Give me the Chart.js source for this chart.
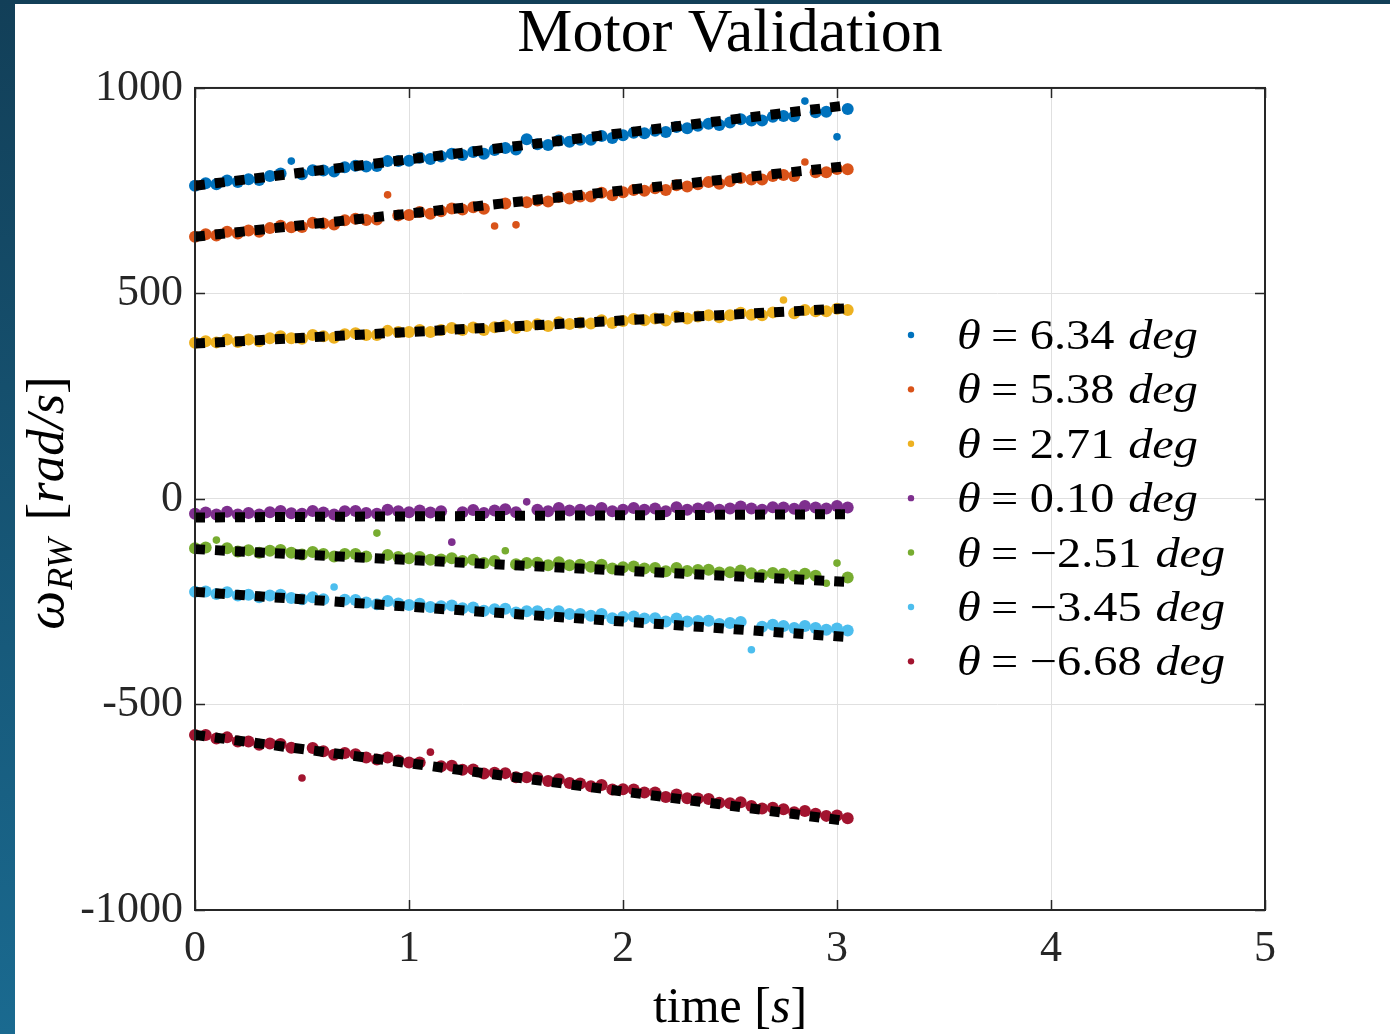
<!DOCTYPE html>
<html>
<head>
<meta charset="utf-8">
<title>Motor Validation</title>
<script src="https://cdn.jsdelivr.net/npm/chart.js@4.4.0/dist/chart.umd.min.js"></script>
<style>
  html, body { margin: 0; padding: 0; }
  body {
    width: 1390px; height: 1034px; overflow: hidden; position: relative;
    background: linear-gradient(to bottom, #123f58, #1a6a90);
  }
  #panel { position: absolute; left: 15px; top: 4px; width: 1375px; height: 1030px; background: #fff; }
</style>
</head>
<body>
<div id="panel"><canvas id="motorChart" width="1375" height="1030"></canvas></div>
<script>
// sample times [s], shared by every run
const times = [
  0, 0.05, 0.1, 0.15, 0.2, 0.25, 0.3, 0.35, 0.4, 0.45,
  0.5, 0.55, 0.6, 0.65, 0.7, 0.75, 0.8, 0.85, 0.9, 0.95,
  1, 1.05, 1.1, 1.15, 1.2, 1.25, 1.3, 1.35, 1.4, 1.45,
  1.5, 1.55, 1.6, 1.65, 1.7, 1.75, 1.8, 1.85, 1.9, 1.95,
  2, 2.05, 2.1, 2.15, 2.2, 2.25, 2.3, 2.35, 2.4, 2.45,
  2.5, 2.55, 2.6, 2.65, 2.7, 2.75, 2.8, 2.85, 2.9, 2.95,
  3, 3.05
];

// tilt angle of each run [deg]
const anglesDeg = [6.34, 5.38, 2.71, 0.10, -2.51, -3.45, -6.68];

// measured wheel speed [rad/s]
const w634 = [
  762, 768, 766, 775, 771, 778, 776, 786, 792, 822,
  790, 800, 799, 797, 807, 811, 809, 810, 822, 822,
  823, 830, 827, 833, 840, 837, 844, 840, 849, 854,
  850, 875, 863, 861, 872, 869, 874, 874, 883, 878,
  885, 891, 890, 896, 893, 905, 902, 908, 913, 910,
  916, 924, 921, 921, 930, 932, 931, 968, 941, 942,
  881, 949
];
const w538 = [
  638, 644, 641, 650, 646, 653, 650, 659, 665, 661,
  662, 672, 670, 668, 678, 682, 679, 680, 740, 690,
  691, 698, 694, 700, 707, 704, 710, 706, 664, 719,
  667, 722, 726, 724, 735, 731, 736, 736, 745, 739,
  746, 752, 750, 756, 752, 763, 760, 766, 771, 767,
  773, 781, 777, 777, 786, 788, 786, 820, 795, 795,
  803, 802
];
const w271 = [
  380, 384, 381, 388, 382, 388, 384, 391, 396, 391,
  390, 399, 396, 392, 401, 403, 399, 399, 409, 406,
  406, 411, 406, 411, 416, 411, 417, 411, 418, 422,
  416, 421, 425, 421, 430, 426, 429, 427, 435, 428,
  433, 438, 435, 439, 434, 444, 439, 444, 447, 442,
  447, 453, 448, 447, 454, 484, 452, 460, 457, 457,
  463, 460
];
const w010 = [
  -36, -33, -38, -31, -38, -34, -38, -32, -29, -35,
  -36, -29, -33, -38, -30, -29, -34, -36, -26, -30,
  -32, -28, -33, -30, -105, -32, -27, -34, -28, -25,
  -32, -7, -26, -30, -22, -28, -26, -28, -22, -30,
  -26, -22, -26, -23, -30, -20, -26, -23, -20, -26,
  -23, -18, -23, -26, -20, -21, -24, -17, -21, -23,
  -17, -21
];
const wm251 = [
  -120, -118, -100, -120, -128, -125, -131, -126, -124, -131,
  -135, -129, -134, -140, -134, -134, -140, -83, -136, -141,
  -144, -141, -148, -147, -144, -151, -148, -156, -151, -126,
  -159, -156, -155, -161, -154, -161, -160, -165, -160, -169,
  -166, -164, -169, -168, -176, -168, -175, -173, -172, -179,
  -178, -174, -181, -185, -180, -182, -187, -182, -187, -205,
  -156, -191
];
const wm345 = [
  -226, -225, -231, -227, -235, -233, -239, -235, -233, -241,
  -244, -239, -244, -214, -245, -246, -252, -256, -248, -254,
  -258, -255, -263, -261, -259, -266, -264, -272, -268, -267,
  -276, -273, -273, -279, -273, -280, -280, -284, -280, -290,
  -287, -286, -291, -290, -298, -291, -298, -297, -296, -304,
  -302, -299, -367, -311, -306, -309, -314, -309, -314, -318,
  -315, -320
];
const wm668 = [
  -574, -574, -583, -580, -590, -590, -598, -595, -596, -605,
  -679, -606, -614, -622, -618, -621, -629, -634, -629, -636,
  -641, -641, -616, -650, -649, -659, -658, -668, -666, -667,
  -677, -677, -678, -686, -682, -691, -692, -699, -696, -707,
  -706, -707, -714, -714, -725, -719, -728, -729, -730, -739,
  -740, -738, -747, -753, -751, -755, -762, -759, -766, -771,
  -770, -777
];
const measured = [w634, w538, w271, w010, wm251, wm345, wm668];

// model fit, start and end of the run
const fitTimes = [0, 3.05];
const fit634 = [762, 958];
const fit538 = [638, 810];
const fit271 = [378, 464];
const fit010 = [-45, -37];
const fitm251 = [-122, -202];
const fitm345 = [-226, -336];
const fitm668 = [-574, -784];
const fits = [fit634, fit538, fit271, fit010, fitm251, fitm345, fitm668];

const xTicks = [0, 1, 2, 3, 4, 5];
const yTicks = [-1000, -500, 0, 500, 1000];

const seriesColors = ['#0072BD', '#D95319', '#EDB120', '#7E2F8E', '#77AC30', '#4DBEEE', '#A2142F'];
const FONT = "'Liberation Serif', 'DejaVu Serif', serif";

function angleText(a) {
  const s = Math.abs(a).toFixed(2);
  return a < 0 ? '\u2212' + s : s;
}

// stray samples (far from the local median) are drawn as small dots,
// the rest overlap into a thick band as in the original figure
function dotRadius(vals) {
  return (c) => {
    const i = c.dataIndex;
    const win = vals.slice(Math.max(i - 2, 0), i + 3).sort((p, q) => p - q);
    const m = win.length % 2 ? win[(win.length - 1) / 2]
                             : (win[win.length / 2 - 1] + win[win.length / 2]) / 2;
    return Math.abs(vals[i] - m) > 16 ? 3.8 : 6;
  };
}

const datasets = [];
measured.forEach((vals, k) => {
  datasets.push({
    label: '\u03B8 = ' + angleText(anglesDeg[k]) + ' deg',
    data: times.map((t, i) => ({ x: t, y: vals[i] })),
    backgroundColor: seriesColors[k],
    borderWidth: 0,
    pointRadius: dotRadius(vals),
    showLine: false,
    clip: false,
    order: 2
  });
});
fits.forEach((vals) => {
  datasets.push({
    label: 'fit',
    data: fitTimes.map((t, i) => ({ x: t, y: vals[i] })),
    showLine: true,
    borderColor: '#000',
    borderWidth: 10,
    borderDash: [10, 10],
    borderCapStyle: 'butt',
    pointRadius: 0,
    clip: false,
    order: 1
  });
});

// text made of pieces in upright/italic faces: [text, size, italic, dy, gapAfter]
function partsWidth(ctx, parts) {
  let w = 0;
  parts.forEach(p => {
    ctx.font = (p[2] ? 'italic ' : '') + p[1] + 'px ' + FONT;
    w += ctx.measureText(p[0]).width + (p[4] || 0);
  });
  return w;
}
function drawParts(ctx, parts, x, y, align) {
  let cx = align === 'center' ? x - partsWidth(ctx, parts) / 2 : x;
  parts.forEach(p => {
    ctx.font = (p[2] ? 'italic ' : '') + p[1] + 'px ' + FONT;
    ctx.fillText(p[0], cx, y + (p[3] || 0));
    cx += ctx.measureText(p[0]).width + (p[4] || 0);
  });
}

const matlabDecor = {
  id: 'matlabDecor',
  afterDraw(chart) {
    const ctx = chart.ctx;
    const a = chart.chartArea;
    const xs = chart.scales.x, ys = chart.scales.y;
    ctx.save();

    // box and inward ticks
    ctx.strokeStyle = '#262626';
    ctx.lineWidth = 2;
    ctx.strokeRect(a.left, a.top, a.right - a.left, a.bottom - a.top);
    ctx.lineWidth = 1.5;
    ctx.beginPath();
    xTicks.forEach(v => {
      const px = Math.round(xs.getPixelForValue(v)) + 0.5;
      ctx.moveTo(px, a.bottom); ctx.lineTo(px, a.bottom - 10);
      ctx.moveTo(px, a.top); ctx.lineTo(px, a.top + 10);
    });
    yTicks.forEach(v => {
      const py = Math.round(ys.getPixelForValue(v)) + 0.5;
      ctx.moveTo(a.left, py); ctx.lineTo(a.left + 10, py);
      ctx.moveTo(a.right, py); ctx.lineTo(a.right - 10, py);
    });
    ctx.stroke();

    ctx.fillStyle = '#000';
    ctx.textBaseline = 'alphabetic';
    ctx.textAlign = 'left';

    // legend inside the axes
    const lx = a.left + 716, ly = a.top + 247, step = 54.4;
    measured.forEach((vals, k) => {
      const cy = ly + k * step;
      ctx.fillStyle = seriesColors[k];
      ctx.beginPath();
      ctx.arc(lx, cy, 3.2, 0, Math.PI * 2);
      ctx.fill();
      ctx.fillStyle = '#000';
      ctx.save();
      ctx.translate(lx + 46, cy + 14);
      ctx.scale(1.15, 1);
      drawParts(ctx, [
        ['\u03B8', 42, true, 0, 9],
        ['=', 42, false, 0, 10],
        [angleText(anglesDeg[k]), 42, false, 0, 12],
        ['deg', 42, true, 0, 0]
      ], 0, 0, 'left');
      ctx.restore();
    });

    // x axis title
    drawParts(ctx, [
      ['time ', 50, false],
      ['[', 50, false],
      ['s', 50, true],
      [']', 50, false]
    ], (a.left + a.right) / 2, 1018, 'center');

    // y axis title, rotated
    ctx.translate(31, (a.top + a.bottom) / 2 + 4);
    ctx.rotate(-Math.PI / 2);
    drawParts(ctx, [
      ['\u03C9', 55, true, 0, 1],
      ['RW', 36, true, 9, 18],
      ['[', 53, false],
      ['rad/s', 53, true],
      [']', 53, false]
    ], 0, 17, 'center');

    ctx.restore();
  }
};

new Chart(document.getElementById('motorChart'), {
  type: 'scatter',
  data: { datasets: datasets },
  options: {
    responsive: false,
    animation: false,
    events: [],
    layout: { padding: { left: 0, top: 0, right: 125, bottom: 0 } },
    plugins: {
      legend: { display: false },
      tooltip: { enabled: false },
      title: {
        display: true,
        text: 'Motor Validation',
        color: '#000',
        fullSize: false,
        font: { family: FONT, size: 62, weight: 'normal', lineHeight: 0.98 },
        padding: { top: 0, bottom: 23.2 }
      }
    },
    scales: {
      x: {
        type: 'linear',
        min: 0, max: 5,
        afterFit: (scale) => { scale.height = 124; },
        afterBuildTicks: (scale) => { scale.ticks = xTicks.map(v => ({ value: v })); },
        grid: { color: '#e0e0e0', lineWidth: 1, drawTicks: false },
        border: { display: false },
        ticks: {
          color: '#262626', padding: 13,
          font: { family: FONT, size: 44 },
          callback: (v) => String(v)
        }
      },
      y: {
        type: 'linear',
        min: -1000, max: 1000,
        afterFit: (scale) => { scale.width = 180; },
        afterBuildTicks: (scale) => { scale.ticks = yTicks.map(v => ({ value: v })); },
        grid: { color: '#e0e0e0', lineWidth: 1, drawTicks: false },
        border: { display: false },
        ticks: {
          color: '#262626', padding: 12,
          font: { family: FONT, size: 44 },
          callback: (v) => String(v)
        }
      }
    }
  },
  plugins: [matlabDecor]
});
</script>
</body>
</html>
